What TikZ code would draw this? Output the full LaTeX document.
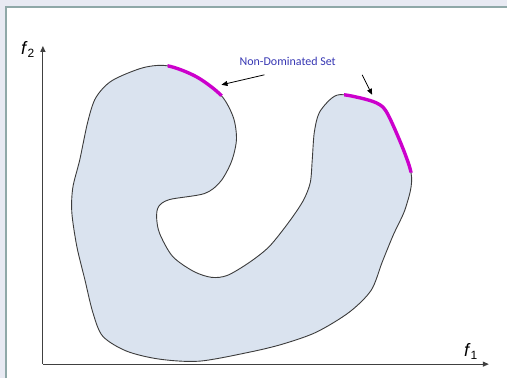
\documentclass[tikz,border=0pt]{standalone}
\usepackage{fontspec}
\setmainfont{Liberation Sans}
\newfontfamily\calfont{Carlito}
\usetikzlibrary{arrows.meta}
\definecolor{pagebg}{HTML}{E8EAF3}
\definecolor{framecol}{HTML}{8FA8A8}
\definecolor{regionfill}{HTML}{DAE3EF}
\definecolor{outlinecol}{HTML}{3C3C3C}
\definecolor{frontcol}{HTML}{CC00CC}
\definecolor{labelblue}{HTML}{3838B4}
\definecolor{axiscol}{HTML}{404040}
\tikzset{
  axisline/.style={draw=axiscol, line width=1.1pt, -{Triangle[length=6pt,width=5pt]}},
  pointer/.style={draw=black, line width=0.8pt, -{Triangle[length=6pt,width=5pt]}},
  outline/.style={draw=outlinecol, line width=0.9pt},
  frontline/.style={draw=frontcol, line width=3.4pt},
  axislabel/.style={font=\fontsize{18}{18}\selectfont, anchor=base west, inner sep=0pt},
}
% the feasible region in objective space
\def\regionpath{plot[smooth cycle, tension=0.5] coordinates {
  (168,66) (197,77) (222,96) (234,118) (237,140) (232,162) (221,182)
  (205,194) (170,200) (159,207) (157,218) (160,234) (173,257) (194,272)
  (212,278) (228,276) (250,263) (270,247) (290,222) (304,201)
  (311,183) (313,160) (315,133) (320,113) (333,98) (345,95) (377,103)
  (390,117) (412,173) (407,207) (394,236) (383,263) (372,291)
  (350,313) (317,333) (283,345) (250,353) (200,362) (160,360) (127,352)
  (103,337) (93,313) (85,280) (77,247) (72,213) (73,188)
  (80,160) (88,122) (96,98) (112,81) (143,68)}}
\begin{document}
\begin{tikzpicture}[x=1pt, y=-1pt]
  % page and frame
  \fill[pagebg] (0,0) rectangle (508,379);
  \fill[white] (6,7) rectangle (508,379);
  \draw[framecol, line width=2.4pt] (6,379) -- (6,7) -- (508,7);
  \useasboundingbox (0,0) rectangle (508,379);

  % region
  \path[fill=regionfill, outline] \regionpath;

  % non-dominated parts of the boundary
  \begin{scope}
    \clip (168,40) -- (168,85) -- (206,108) -- (246,78) -- (246,40) -- cycle;
    \path[frontline] \regionpath;
  \end{scope}
  \begin{scope}
    \clip (345,60) -- (345,130) -- (395,173) -- (440,173) -- (440,60) -- cycle;
    \path[frontline] \regionpath;
  \end{scope}

  % axes
  \coordinate (origin) at (43,365);
  \coordinate (ytip) at (43,46);
  \coordinate (xtip) at (490,365);
  \draw[axisline] (origin) -- (ytip);
  \draw[axisline] (origin) -- (xtip);
  \node[axislabel] (f2) at (21,55) {\textit{f}\raisebox{-3pt}{\fontsize{12}{12}\selectfont 2}};
  \node[axislabel] (f1) at (465,357) {\textit{f}\raisebox{-3pt}{\fontsize{12}{12}\selectfont 1}};

  % label and pointers
  \node[anchor=base west, inner sep=0pt, text=labelblue, font=\calfont\fontsize{12}{12}\selectfont]
    (nds) at (240,66) {Non-Dominated Set};
  \coordinate (p1start) at (265,75);
  \coordinate (p1end) at (222,85);
  \coordinate (p2start) at (363,75);
  \coordinate (p2end) at (373,95);
  \draw[pointer] (p1start) -- (p1end);
  \draw[pointer] (p2start) -- (p2end);
\end{tikzpicture}
\end{document}
